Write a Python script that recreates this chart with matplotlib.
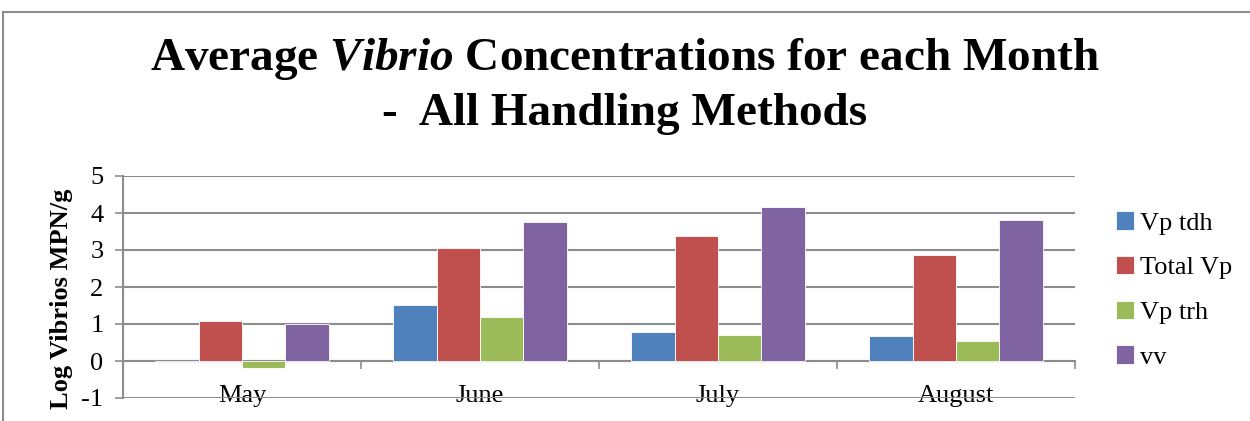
import matplotlib
matplotlib.use('Agg')
import matplotlib.pyplot as plt
from matplotlib.patches import Rectangle
import numpy as np

plt.rcParams['font.family'] = ['Liberation Serif', 'DejaVu Serif']
plt.rcParams['axes.unicode_minus'] = False
plt.rcParams['mathtext.fontset'] = 'custom'
plt.rcParams['mathtext.it'] = 'Liberation Serif:italic:bold'
plt.rcParams['mathtext.rm'] = 'Liberation Serif:bold'

months = ['May', 'June', 'July', 'August']
series = ['Vp tdh', 'Total Vp', 'Vp trh', 'vv']
vp_tdh = [-0.03, 1.52, 0.78, 0.67]
total_vp = [1.08, 3.06, 3.37, 2.86]
vp_trh = [-0.2, 1.18, 0.70, 0.54]
vv = [1.0, 3.75, 4.15, 3.82]
colors = ['#4F81BD', '#C0504D', '#9BBB59', '#8064A2']

fig = plt.figure(figsize=(12.5, 4.21), dpi=100)
ax = fig.add_axes([123/1250, 1-398/421, (1075-123)/1250, (398-176)/421])

# chart border (cropped picture: only top and left edges show)
fig.patches.append(Rectangle((3/1250, -0.2), 1.2, 1-12/421+0.2, transform=fig.transFigure,
                             fill=False, edgecolor='#8c8c8c', lw=1.5, zorder=0))

x = np.arange(len(months))
w = 1/5.5
data = [vp_tdh, total_vp, vp_trh, vv]
for i, (vals, c, name) in enumerate(zip(data, colors, series)):
    ax.bar(x + (i - 1.5)*w, vals, w, color=c, edgecolor='white', lw=0.6, label=name, zorder=3)

ax.set_xlim(-0.5, len(months)-0.5)
ax.set_ylim(-1, 5)
ax.set_yticks(range(-1, 6))
ax.grid(axis='y', color='#8c8c8c', lw=1.5, zorder=0)
ax.tick_params(axis='y', length=6, width=1.2, color='#8c8c8c', pad=8, labelsize=19)
for s in ['top', 'right']:
    ax.spines[s].set_visible(False)
ax.spines['left'].set_color('#8c8c8c')
ax.spines['left'].set_linewidth(1.5)
ax.spines['bottom'].set_position(('data', 0))
ax.spines['bottom'].set_color('#8c8c8c')
ax.spines['bottom'].set_linewidth(1.5)

ax.set_xticks(x)
ax.set_xticklabels(months)
ax.set_xticks(np.arange(len(months)+1) - 0.5, minor=True)
ax.tick_params(axis='x', which='major', length=0, pad=17, labelsize=19)
ax.tick_params(axis='x', which='minor', length=6, width=1.2, color='#8c8c8c')

ax.set_ylabel('Log Vibrios MPN/g', fontsize=19, fontweight='bold')
ax.yaxis.set_label_coords(73/1250, 1-299/421, transform=fig.transFigure)

fig.text(0.5, 1-59/421, 'Average $\\mathit{Vibrio}$ Concentrations for each Month', ha='center', va='center',
         fontsize=34, fontweight='bold')
fig.text(0.5, 1-114/421, '-  All Handling Methods', ha='center', va='center', fontsize=34, fontweight='bold')

leg = ax.legend(loc='center left', bbox_to_anchor=(1092/1250, 1-290/421), bbox_transform=fig.transFigure,
                frameon=False, fontsize=19, handlelength=0.7, handleheight=0.7, handletextpad=0.2,
                labelspacing=0.8)

fig.savefig('out.png', dpi=100)
